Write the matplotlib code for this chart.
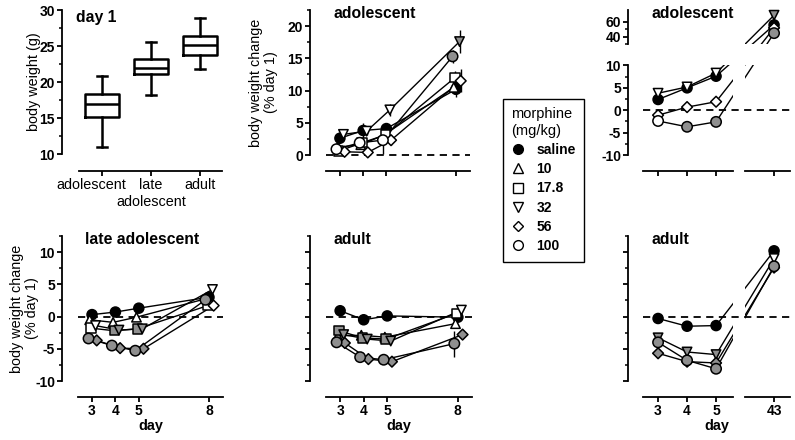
import numpy as np
import matplotlib
matplotlib.use("Agg")
import matplotlib.pyplot as plt
from matplotlib.lines import Line2D
from matplotlib.transforms import offset_copy, ScaledTranslation

plt.rcParams['font.family'] = ['Liberation Sans', 'DejaVu Sans']
plt.rcParams['axes.unicode_minus'] = False

# ---- data ----
box_groups = ['adolescent', 'late\nadolescent', 'adult']
box_low = [11.0, 18.2, 21.8]
box_q1 = [15.2, 21.1, 23.7]
box_med = [17.0, 22.0, 25.1]
box_q3 = [18.4, 23.2, 26.4]
box_high = [20.8, 25.5, 28.9]

doses = ['saline', '10', '17.8', '32', '56', '100']
days_short = [3, 4, 5, 8]
days_long = [3, 4, 5, 43]

# adolescent, days 3-8  (fill: k = saline, g = grey/significant, w = white)
ado_short = {
    'saline': ([2.6, 3.8, 4.1, 10.2], [0.5, 1.2, 0.8, 1.2], 'kkkk'),
    '10':     ([1.2, 1.6, 3.1, 10.5], [0.4, 0.6, 0.6, 1.0], 'wwww'),
    '17.8':   ([0.6, 1.9, 3.1, 12.0], [0.3, 0.5, 0.6, 1.0], 'wwww'),
    '32':     ([3.2, 3.7, 7.0, 17.6], [0.5, 0.6, 0.9, 1.8], 'wwwg'),
    '56':     ([0.5, 0.4, 2.3, 11.5], [0.3, 0.6, 0.8, 1.8], 'wwww'),
    '100':    ([0.9, 1.9, 2.3, 15.3], [0.3, 0.5, 2.2, 1.0], 'wwwg'),
}
late_short = {
    'saline': ([0.3, 0.7, 1.3, 3.0], [0.2, 0.2, 0.3, 0.5], 'kkkk'),
    '10':     ([-0.5, -0.9, -0.1, 2.8], [0.3, 0.3, 0.3, 0.5], 'wwww'),
    '17.8':   ([-1.8, -2.2, -1.9, 1.7], [0.3, 0.3, 0.3, 0.5], 'wggw'),
    '32':     ([-1.4, -2.1, -1.9, 4.2], [0.3, 0.3, 0.3, 0.6], 'wggw'),
    '56':     ([-3.7, -4.9, -5.0, 1.7], [0.3, 0.3, 0.3, 0.5], 'gggw'),
    '100':    ([-3.4, -4.5, -5.3, 2.6], [0.3, 0.3, 0.3, 0.5], 'gggg'),
}
adult_short = {
    'saline': ([0.9, -0.5, 0.1, -0.1], [0.4, 0.3, 0.3, 0.3], 'kkkk'),
    '10':     ([-3.0, -2.9, -3.2, -1.1], [0.3, 0.3, 0.3, 0.4], 'gwgw'),
    '17.8':   ([-2.2, -3.3, -3.5, 0.5], [0.3, 0.3, 0.3, 0.4], 'gggw'),
    '32':     ([-2.8, -3.5, -3.8, 1.0], [0.3, 0.3, 0.3, 0.4], 'gggw'),
    '56':     ([-4.1, -6.6, -7.0, -2.8], [0.3, 0.3, 0.3, 0.4], 'gggg'),
    '100':    ([-4.0, -6.3, -6.7, -4.2], [0.3, 0.3, 0.3, 2.0], 'gggg'),
}
ado_long = {
    'saline': ([2.4, 5.0, 7.6, 56.0], [0.4, 0.5, 0.6, 3.0], 'kkkk'),
    '32':     ([3.8, 5.2, 8.3, 69.0], [0.4, 0.5, 0.6, 3.0], 'wwwg'),
    '56':     ([-1.1, 0.7, 1.9, 52.0], [0.4, 0.4, 0.4, 3.0], 'wwww'),
    '100':    ([-2.4, -3.7, -2.6, 45.0], [0.4, 0.4, 0.4, 3.0], 'wggg'),
}
adult_long = {
    'saline': ([-0.3, -1.5, -1.4, 10.2], [0.2, 0.2, 0.2, 0.8], 'kkkk'),
    '32':     ([-3.3, -5.5, -5.9, 9.0], [0.3, 0.3, 0.3, 0.5], 'gggw'),
    '56':     ([-5.7, -7.0, -7.2, 7.6], [0.3, 0.3, 0.3, 0.5], 'gggg'),
    '100':    ([-4.0, -6.8, -8.1, 7.8], [0.3, 0.3, 0.3, 0.5], 'gggg'),
}

# ---- style ----
MARK = {'saline': 'o', '10': '^', '17.8': 's', '32': 'v', '56': 'D', '100': 'o'}
MSIZE = {'saline': 52, '10': 46, '17.8': 46, '32': 46, '56': 30, '100': 56}
XOFF = {'saline': 0.0, '10': -0.1, '17.8': -0.05, '32': 0.15, '56': 0.2, '100': -0.15}
FILL = {'k': 'black', 'g': '#8f8f8f', 'w': 'white'}
W, H = 795, 440
OUT = 11.5          # outward offset of spines, pt
TICKFS = 10
LABFS = 10.4
TITLEFS = 11.3


def px_axes(x0, x1, y0, y1):
    return fig.add_axes([x0 / W, 1 - y1 / H, (x1 - x0) / W, (y1 - y0) / H])


def style_axes(ax, out_left=OUT, out_bottom=OUT):
    for s in ['top', 'right']:
        ax.spines[s].set_visible(False)
    ax.spines['left'].set_position(('outward', out_left))
    ax.spines['bottom'].set_position(('outward', out_bottom))
    for s in ['left', 'bottom']:
        ax.spines[s].set_linewidth(1.3)
    ax.tick_params(which='major', length=3.5, width=1.3, labelsize=TICKFS, pad=1.5)
    ax.tick_params(which='minor', length=2.2, width=1.1)
    ax.patch.set_visible(False)


def bold_ticks(ax):
    for lab in ax.get_xticklabels() + ax.get_yticklabels():
        lab.set_fontweight('bold')


def draw_series(ax, days, table, offsets=True):
    for dose, (vals, errs, fills) in table.items():
        x = np.array(days, float) + (XOFF[dose] if offsets else 0.0)
        ax.plot(x, vals, color='black', lw=1.0, zorder=2)
        ax.errorbar(x, vals, yerr=errs, fmt='none', ecolor='black', elinewidth=1.0,
                    capsize=0, zorder=2.5)
        ax.scatter(x, vals, marker=MARK[dose], s=MSIZE[dose],
                   facecolors=[FILL[f] for f in fills], edgecolors='black',
                   linewidths=1.1, zorder=5, clip_on=False)


def title(ax, txt, x, y):
    ax.text(x, y, txt, transform=ax.transAxes, fontsize=TITLEFS, fontweight='bold',
            ha='left', va='center')


# broken-axis mappings for the long-term panels
def brk_x(x):
    x = np.asarray(x, float)
    return np.where(x <= 5.6, x, np.where(x >= 42, x - 36, 5.6 + (x - 5.6) * 0.4 / 36.4))


def brk_x_inv(s):
    s = np.asarray(s, float)
    return np.where(s <= 5.6, s, np.where(s >= 6.0, s + 36, 5.6 + (s - 5.6) * 36.4 / 0.4))


S_HI = 10 + 22 / 4.5


def brk_y(y):
    y = np.asarray(y, float)
    return np.where(y <= 10, y, np.where(y >= 31, S_HI + (y - 31) / 6.0,
                                         10 + (y - 10) * (S_HI - 10) / 21))


def brk_y_inv(s):
    s = np.asarray(s, float)
    return np.where(s <= 10, s, np.where(s >= S_HI, 31 + (s - S_HI) * 6.0,
                                         10 + (s - 10) * 21 / (S_HI - 10)))


fig = plt.figure(figsize=(W / 100, H / 100), dpi=100)

# ---- day 1 box plot ----
ax = px_axes(79, 222, 10, 154)
stats = [dict(med=m, q1=a, q3=b, whislo=lo, whishi=hi, label=g)
         for g, lo, a, m, b, hi in zip(box_groups, box_low, box_q1, box_med, box_q3, box_high)]
ax.bxp(stats, positions=[1, 2, 3], widths=0.68, showfliers=False,
       boxprops=dict(lw=1.8, color='black'), medianprops=dict(lw=1.8, color='black'),
       whiskerprops=dict(lw=1.8, color='black'), capprops=dict(lw=1.8, color='black'),
       capwidths=0.22)
ax.set_xlim(0.53, 3.45)
ax.set_ylim(10, 30)
ax.set_yticks([10, 15, 20, 25, 30])
ax.set_yticks(np.arange(12.5, 30, 5), minor=True)
style_axes(ax, out_left=12.2, out_bottom=12.2)
# first line of each group name as tick label, second line as its own text
ax.set_xticklabels([g.split('\n')[0] for g in box_groups], fontsize=LABFS)
bold_ticks(ax)
for lab in ax.get_xticklabels():
    lab.set_fontweight('normal')
first = ax.get_xticklabels()[0]
first.set_transform(first.get_transform() + ScaledTranslation(-11 / 100, 0, fig.dpi_scale_trans))
for i, g in enumerate(box_groups):
    if '\n' in g:
        ax.annotate(g.split('\n')[1], xy=(i + 1, 0), xycoords=('data', 'axes fraction'),
                    xytext=(0, -34.5), textcoords='offset points', ha='center', va='center',
                    fontsize=LABFS, annotation_clip=False)
ax.set_ylabel('body weight (g)', fontsize=LABFS)
ax.yaxis.set_label_coords(-0.265, 0.5)
title(ax, 'day 1', -0.02, 0.945)

# ---- short-term panels ----
short_panels = [
    (326, 470, 10, 155, (0, 22.5), [0, 5, 10, 15, 20], np.arange(2.5, 22.6, 5), ado_short,
     'adolescent', False, True),
    (78, 223, 236, 381, (-10, 12.5), [-10, -5, 0, 5, 10], np.arange(-7.5, 12.6, 5), late_short,
     'late adolescent', True, True),
    (326, 472, 236, 381, (-10, 12.5), [-10, -5, 0, 5, 10], np.arange(-7.5, 12.6, 5), adult_short,
     'adult', True, False),
]
for x0, x1, y0, y1, ylim, yt, ymt, table, name, bottom_row, ylab in short_panels:
    ax = px_axes(x0, x1, y0, y1)
    ax.axhline(0, color='black', lw=1.3, ls=(0, (4, 3)), zorder=3, clip_on=False)
    draw_series(ax, days_short, table)
    ax.set_xlim(2.4, 8.6)
    ax.set_ylim(*ylim)
    ax.set_xticks(days_short)
    ax.set_yticks(yt)
    ax.set_yticks(ymt, minor=True)
    style_axes(ax)
    if not bottom_row:
        ax.set_xticklabels([])
    else:
        ax.set_xlabel('day', fontsize=LABFS, fontweight='bold', labelpad=1)
    if not ylab:
        ax.set_yticklabels([])
    else:
        ax.set_ylabel('body weight change\n(% day 1)', fontsize=LABFS, linespacing=1.1)
        ax.yaxis.set_label_coords(-0.27 if bottom_row else -0.33, 0.5)
    bold_ticks(ax)
    title(ax, name, 0.05, 0.975)

# ---- long-term panels (broken axes) ----
for y0, y1, table, name, top in [(10, 155, ado_long, 'adolescent', True),
                                 (236, 381, adult_long, 'adult', False)]:
    ax = px_axes(643, 790, y0, y1)
    ax.set_xscale('function', functions=(brk_x, brk_x_inv))
    if top:
        ax.set_yscale('function', functions=(brk_y, brk_y_inv))
    ax.axhline(0, color='black', lw=1.3, ls=(0, (4, 3)), zorder=4)
    draw_series(ax, days_long, table, offsets=False)
    ax.axvspan(5.62, 41.98, color='white', lw=0, zorder=3)
    ax.set_xlim(2.48, 43.55)
    ax.set_xticks(days_long)
    if top:
        ax.axhspan(10.05, 30.9, color='white', lw=0, zorder=3)
        ax.set_ylim(-10, 76)
        ax.set_yticks([-10, -5, 0, 5, 10, 40, 60])
        ax.set_yticks([-7.5, -2.5, 2.5, 7.5, 31, 50], minor=True)
    else:
        ax.set_ylim(-10, 12.5)
        ax.set_yticks([-10, -5, 0, 5, 10])
        ax.set_yticks(np.arange(-7.5, 12.6, 5), minor=True)
    style_axes(ax, out_left=10.8)
    ax.spines['bottom'].set_bounds(2.48, 5.59)
    ax.plot([42.0, 43.55], [0, 0], color='black', lw=1.3, clip_on=False,
            transform=offset_copy(ax.get_xaxis_transform(), fig=fig, y=-OUT, units='points'))
    if top:
        ax.spines['left'].set_bounds(-10, 10)
        ax.plot([0, 0], [31, 76], color='black', lw=1.3, clip_on=False,
                transform=offset_copy(ax.get_yaxis_transform(), fig=fig, x=-10.8, units='points'))
        ax.set_xticklabels([])
    else:
        ax.set_yticklabels([])
        ax.set_xlabel('day', fontsize=LABFS, fontweight='bold', labelpad=1)
    bold_ticks(ax)
    title(ax, name, 0.055, 0.975)

# ---- legend ----
handles = [Line2D([], [], ls='none', marker=MARK[d], markersize=7 if d != '56' else 5.5,
                  markerfacecolor='black' if d == 'saline' else 'white',
                  markeredgecolor='black', markeredgewidth=1.0) for d in doses]
leg = fig.legend(handles, doses, loc='upper left', bbox_to_anchor=(503 / W, 1 - 99 / H),
                 borderaxespad=0, frameon=True, fancybox=False, edgecolor='black', framealpha=1,
                 title='morphine\n(mg/kg)', alignment='left', handlelength=1.0,
                 handletextpad=0.8, labelspacing=0.38, borderpad=0.6,
                 prop=dict(size=10, weight='bold'),
                 title_fontproperties=dict(size=10.5))
leg.get_frame().set_linewidth(1.0)

fig.savefig('out.png', dpi=100)
